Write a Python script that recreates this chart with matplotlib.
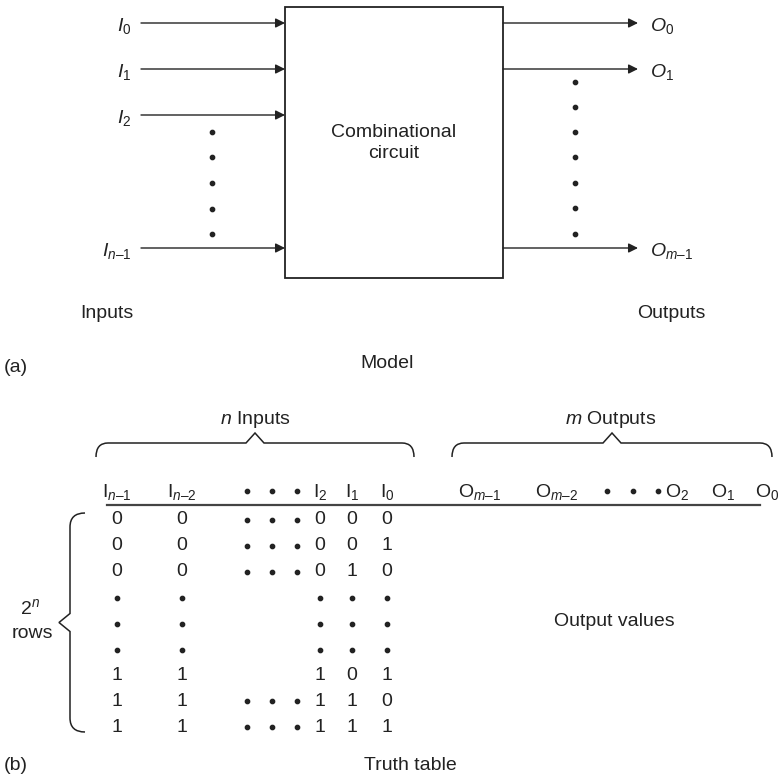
import matplotlib
matplotlib.use('Agg')
import matplotlib.pyplot as plt
from matplotlib.patches import Rectangle, PathPatch
from matplotlib.path import Path

plt.rcParams['font.family'] = ['Liberation Sans', 'DejaVu Sans']
plt.rcParams['mathtext.fontset'] = 'custom'
plt.rcParams['mathtext.rm'] = 'Liberation Sans'
plt.rcParams['mathtext.it'] = 'Liberation Sans:italic'
plt.rcParams['mathtext.default'] = 'regular'

DASH = '\u2013'

# (a) model
input_labels = [r'$\mathit{I}_0$', r'$\mathit{I}_1$', r'$\mathit{I}_2$',
                r'$\mathit{I}_{\mathit{n}' + DASH + '1}$']
output_labels = [r'$\mathit{O}_0$', r'$\mathit{O}_1$', r'$\mathit{O}_{\mathit{m}' + DASH + '1}$']
box_text = 'Combinational\ncircuit'

# (b) truth table
in_headers = [r'$I_{\mathit{n}' + DASH + '1}$', r'$I_{\mathit{n}' + DASH + '2}$',
              r'$I_2$', r'$I_1$', r'$I_0$']
out_headers = [r'$O_{\mathit{m}' + DASH + '1}$', r'$O_{\mathit{m}' + DASH + '2}$',
               r'$O_2$', r'$O_1$', r'$O_0$']
col_msb1 = ['0', '0', '0', '.', '.', '.', '1', '1', '1']
col_msb2 = ['0', '0', '0', '.', '.', '.', '1', '1', '1']
col_i2 = ['0', '0', '0', '.', '.', '.', '1', '1', '1']
col_i1 = ['0', '0', '1', '.', '.', '.', '0', '1', '1']
col_i0 = ['0', '1', '0', '.', '.', '.', '1', '0', '1']
row_has_gap = [True, True, True, False, False, False, False, True, True]

fig = plt.figure(figsize=(7.81, 7.80), dpi=100)
ax = fig.add_axes([0, 0, 1, 1])
ax.set_xlim(0, 781)
ax.set_ylim(780, 0)
ax.axis('off')

FS = 14
INK = '#222222'
dot_kw = dict(marker='o', markersize=3.1, color=INK, linestyle='none')

# ---- part (a) ----
bx0, bx1, by0, by1 = 285, 503, 7, 278
ax.add_patch(Rectangle((bx0, by0), bx1 - bx0, by1 - by0, fill=False, lw=1.3, ec=INK))
ax.text((bx0 + bx1) / 2, 143, box_text, ha='center', va='center', fontsize=FS,
        linespacing=1.25, color=INK)

arrow_kw = dict(arrowstyle='-|>', color=INK, lw=1.0, mutation_scale=14, shrinkA=0, shrinkB=0)
in_y = [23, 69, 115, 248]
for lab, y in zip(input_labels, in_y):
    ax.annotate('', xy=(bx0, y), xytext=(141, y), arrowprops=arrow_kw)
    ax.text(131, y + 8, lab, ha='right', va='baseline', fontsize=FS, color=INK)
ax.plot([212] * 5, [132, 157, 183, 209, 234], **dot_kw)

out_y = [23, 69, 248]
for lab, y in zip(output_labels, out_y):
    ax.annotate('', xy=(638, y), xytext=(bx1, y), arrowprops=arrow_kw)
    ax.text(650, y + 8, lab, ha='left', va='baseline', fontsize=FS, color=INK)
ax.plot([575] * 7, [82, 107, 132, 157, 183, 208, 234], **dot_kw)

ax.text(107, 313, 'Inputs', ha='center', va='center', fontsize=FS, color=INK)
ax.text(671, 313, 'Outputs', ha='center', va='center', fontsize=FS, color=INK)
ax.text(387, 364, 'Model', ha='center', va='center', fontsize=FS, color=INK)
ax.text(4, 367, '(a)', ha='left', va='center', fontsize=FS, color=INK)


# ---- part (b) ----
def hbrace(x0, x1, y, h=14, tip=10, r=12):
    xm = (x0 + x1) / 2
    verts = [(x0, y + h), (x0, y), (x0 + r, y), (xm - 9, y), (xm, y - tip), (xm + 9, y),
             (x1 - r, y), (x1, y), (x1, y + h)]
    codes = [Path.MOVETO, Path.CURVE3, Path.CURVE3, Path.LINETO, Path.LINETO, Path.LINETO,
             Path.LINETO, Path.CURVE3, Path.CURVE3]
    ax.add_patch(PathPatch(Path(verts, codes), fill=False, lw=1.1, ec=INK))


def vbrace(x, y0, y1, w=15, tip=11, r=14):
    ym = (y0 + y1) / 2
    verts = [(x + w, y0), (x, y0), (x, y0 + r), (x, ym - 9), (x - tip, ym), (x, ym + 9),
             (x, y1 - r), (x, y1), (x + w, y1)]
    codes = [Path.MOVETO, Path.CURVE3, Path.CURVE3, Path.LINETO, Path.LINETO, Path.LINETO,
             Path.LINETO, Path.CURVE3, Path.CURVE3]
    ax.add_patch(PathPatch(Path(verts, codes), fill=False, lw=1.1, ec=INK))


hbrace(96, 414, 443)
hbrace(452, 772, 443)
ax.text(255, 424, r'$\mathit{n}$ Inputs', ha='center', va='baseline', fontsize=FS, color=INK)
ax.text(611, 424, r'$\mathit{m}$ Outputs', ha='center', va='baseline', fontsize=FS, color=INK)

in_x = [117, 182, 320, 352, 387]
gap_x = [247, 272, 297]
head_y = 497
for lab, x in zip(in_headers, in_x):
    ax.text(x, head_y, lab, ha='center', va='baseline', fontsize=FS, color=INK)
ax.plot(gap_x, [head_y - 6] * 3, **dot_kw)

out_x = [480, 557, 677, 723, 767]
out_gap_x = [607, 633, 658]
for lab, x in zip(out_headers, out_x):
    ax.text(x, head_y, lab, ha='center', va='baseline', fontsize=FS, color=INK)
ax.plot(out_gap_x, [head_y - 6] * 3, **dot_kw)

ax.plot([107, 760], [505, 505], color='#444444', lw=1.6)

row_y = [520 + 25.9 * i for i in range(9)]
cols = [col_msb1, col_msb2, col_i2, col_i1, col_i0]
for col, x in zip(cols, in_x):
    for val, y in zip(col, row_y):
        if val == '.':
            ax.plot([x], [y], **dot_kw)
        else:
            ax.text(x, y, val, ha='center', va='center', fontsize=FS, color=INK)
for gap, y in zip(row_has_gap, row_y):
    if gap:
        ax.plot(gap_x, [y] * 3, **dot_kw)

vbrace(70, 513, 732)
ax.text(30, 608, r'$2^{\mathit{n}}$', ha='center', va='center', fontsize=FS, color=INK)
ax.text(32, 634, 'rows', ha='center', va='center', fontsize=FS, color=INK)

ax.text(614, 622, 'Output values', ha='center', va='center', fontsize=FS, color=INK)
ax.text(4, 766, '(b)', ha='left', va='center', fontsize=FS, color=INK)
ax.text(410, 766, 'Truth table', ha='center', va='center', fontsize=FS, color=INK)

fig.savefig('out.png', dpi=100)
